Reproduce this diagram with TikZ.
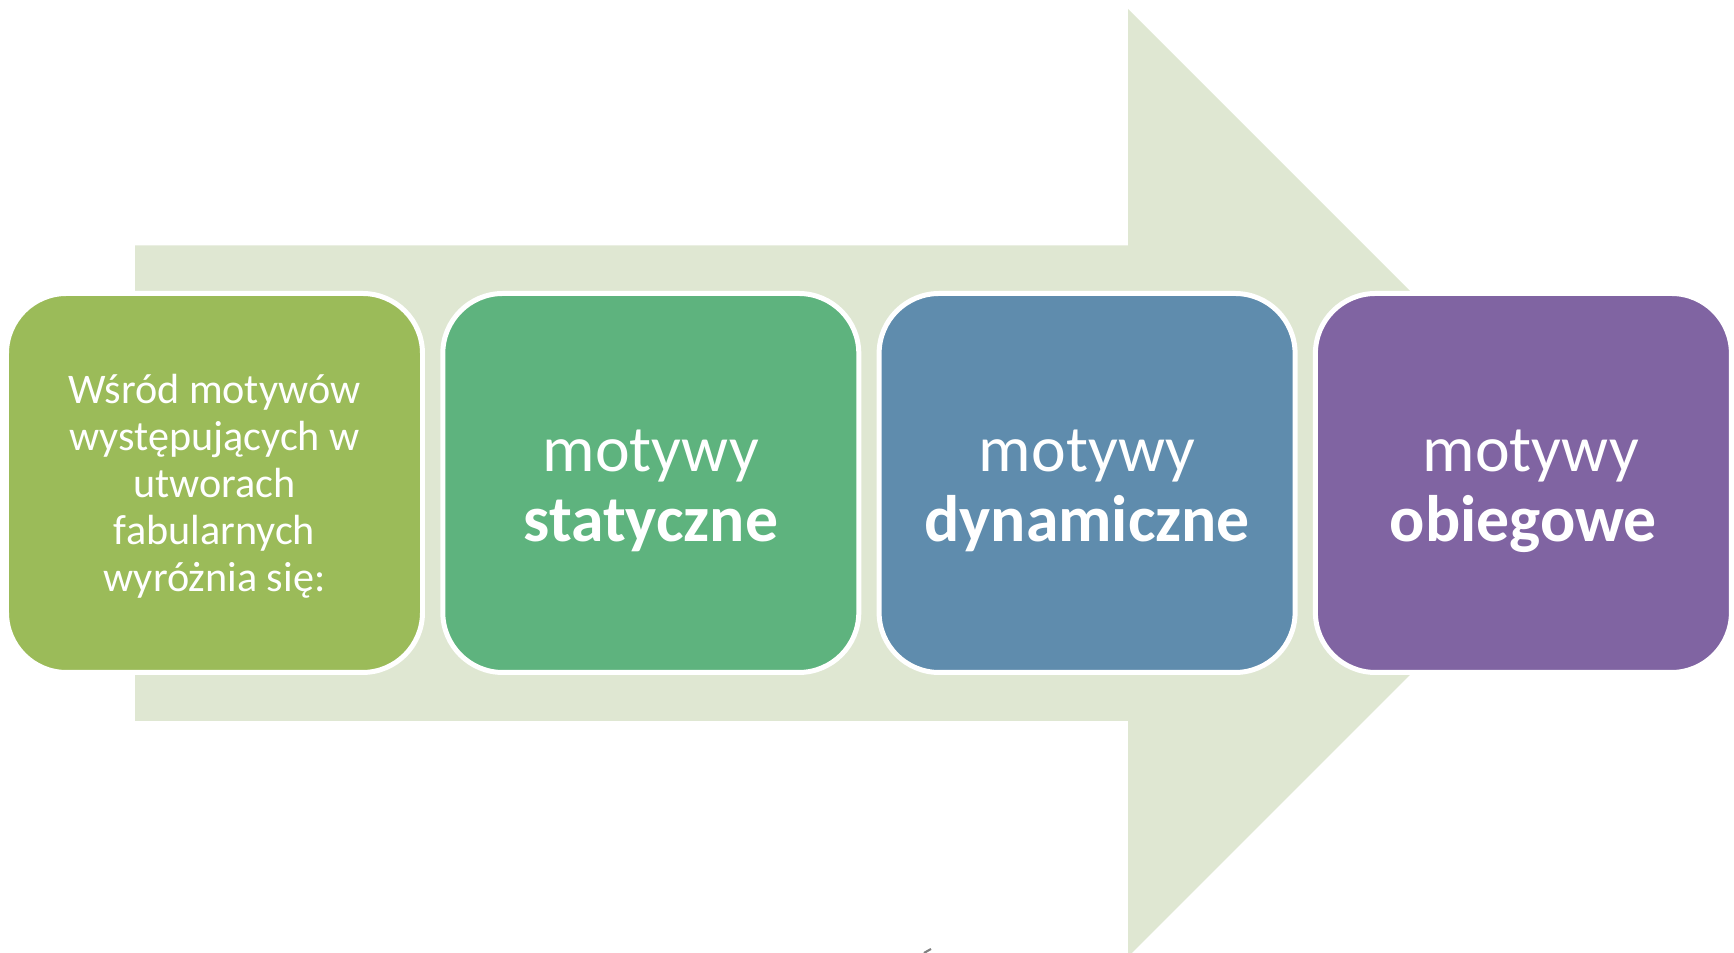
\documentclass[tikz,border=0pt]{standalone}
\usepackage{fontspec}
\setmainfont{Carlito}
\usetikzlibrary{positioning}
\definecolor{arrowgreen}{HTML}{DFE7D2}
\definecolor{olivegreen}{HTML}{9BBB59}
\definecolor{seagreen}{HTML}{5EB37E}
\definecolor{steelblue}{HTML}{5F8CAD}
\definecolor{plum}{HTML}{8064A2}
\tikzset{
    motif/.style={rectangle, rounded corners=0.6cm, draw=white, line width=1.42pt,
        minimum width=4.16cm, minimum height=3.79cm, outer sep=0pt},
    motiftext/.style={text=white, align=center, inner sep=0pt,
        font=\fontsize{18.7}{19.9}\selectfont},
}
\begin{document}
\begin{tikzpicture}
            \useasboundingbox (0,0) rectangle (17.34,9.53);
            \fill[arrowgreen] (1.35,2.32) -- (1.35,7.075) -- (11.28,7.075) -- (11.28,9.44)
                -- (16.02,4.70) -- (11.28,-0.04) -- (11.28,2.32) -- cycle;
            \node[motif, fill=olivegreen] (intro) at (2.145,4.70) {};
            \node[motif, fill=seagreen, right=0.203cm of intro] (static) {};
            \node[motif, fill=steelblue, right=0.203cm of static] (dynamic) {};
            \node[motif, fill=plum, right=0.203cm of dynamic] (common) {};
            \node[motiftext, font=\fontsize{12}{13.4}\selectfont] (introtext) at ([yshift=-0.03cm]intro.center)
                {Wśród motywów\\występujących w\\utworach\\fabularnych\\wyróżnia się:};
            \node[motiftext] (statictext) at ([yshift=-0.08cm]static.center) {motywy\\\textbf{statyczne}};
            \node[motiftext] (dynamictext) at ([yshift=-0.08cm]dynamic.center) {motywy\\\textbf{dynamiczne}};
            \node[motiftext] (commontext) at ([yshift=-0.08cm]common.center) {\hspace*{0.23em}motywy\\\textbf{obiegowe}};
            \draw[gray, line width=0.6pt] (9.24,0.0) -- (9.31,0.04);
        \end{tikzpicture}
\end{document}
